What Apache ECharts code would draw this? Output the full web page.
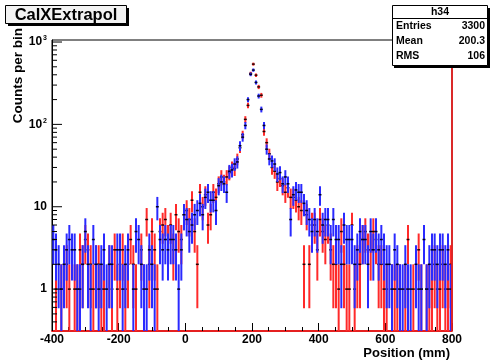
<!DOCTYPE html>
<html><head><meta charset="utf-8">
<script src="https://cdn.jsdelivr.net/npm/echarts@6/dist/echarts.min.js"></script>
<style>html,body{margin:0;padding:0;background:#fff}#c{width:490px;height:361px}</style>
</head><body><div id="c"></div><script>
// ---- data ----
const xStart = -400;          // lower edge of first bin (mm)
const binWidth = 8;           // mm per bin
const redCounts = [
  0,1,0,1,0,2,1,0,1,1, 3,2,4,3,2,1,2,2,1,1, 0,2,1,3,1,2,3,1,2,4, 2,1,0,3,1,7,2,5,
  3,1,5,6,7,4,6,3,8,5,4,8, 9,7,12,5,2,15,10,14,6,8, 15,13,19,23,20,23,26,30,29,38,
  52,75,115,170,415,539,396,285,226,82,60,
  44,30,27,20,22,18,15,17,13,13, 12,10,9,2,8,2,6,6,3,7, 5,4,6,3,2,2,1,5,2,1,
  1,6,1,2,2,4,5,3,3,5, 4,2,2,1,1,0,1,1,1,1, 0,1,4,0,1,0,3,1,0,1, 1,1,2,1,1,2,1,1,2
];
const blueCounts = [
  4,3,2,1,2,3,4,3,3,1, 1,2,5,2,1,4,2,1,2,3, 1,2,2,0,3,3,1,2,3,0, 1,5,4,2,1,1,3,2,
  1,10,4,3,4,3,4,4,3,1,3,8, 7,5,6,8,9,11,8,13,15,12, 12,9,18,20,19,15,27,28,33,35,
  55,70,97,200,405,456,323,221,152,97,50,
  38,36,33,25,26,19,23,19,7,14, 16,15,15,11,9,7,5,7,5,14, 6,7,7,4,7,4,4,2,6,4,
  4,4,2,3,5,4,4,2,5,3, 5,3,4,3,2,2,1,3,2,1, 1,2,1,1,0,2,1,1,4,1, 2,3,3,2,3,3,2,3,1
];
const xRange = [-400, 800];
const yRange = [0.31, 1058];
const yDecades = [0, 1, 2, 3];
const yDecadeLabels = ['1', '10', '10|2', '10|3'];
const statsRows = [['Entries', '3300'], ['Mean', '200.3'], ['RMS', '106']];
const histName = 'h34';
const titleText = 'CalXExtrapol';

// ---- build ----
const FONT = '"Liberation Sans", Arial, Helvetica, sans-serif';
function toPoints(counts) {
  const out = [];
  counts.forEach((n, i) => { if (n > 0) out.push([xStart + binWidth * (i + 0.5), n]); });
  return out;
}
function makeRender(color, markColor) {
  return function (params, api) {
    const x = api.value(0), n = api.value(1);
    const e = Math.sqrt(n);
    const lo = Math.max(n - e, yRange[0]);
    const hi = n + e;
    const pt = api.coord([x, hi]), pb = api.coord([x, lo]);
    const pl = api.coord([x - binWidth * 0.55, n]), pr = api.coord([x + binWidth * 0.55, n]);
    return { type: 'group', children: [
      { type: 'line', shape: { x1: pt[0], y1: pt[1], x2: pb[0], y2: pb[1] }, style: { stroke: color, lineWidth: 2 } },
      { type: 'line', shape: { x1: pl[0], y1: pl[1], x2: pr[0], y2: pr[1] }, style: { stroke: markColor, lineWidth: 1.5 } }
    ]};
  };
}
const yTicks = [];
for (let d = -1; d <= 3; d++) for (let m = 1; m <= 9; m++) {
  const v = m * Math.pow(10, d);
  if (v >= yRange[0] && v <= yRange[1]) yTicks.push([xRange[0], v, m === 1 ? 1 : 0]);
}
const labelMap = {};
yDecades.forEach((d, i) => labelMap[d] = yDecadeLabels[i]);

const chart = echarts.init(document.getElementById('c'), null, { renderer: 'canvas' });
chart.setOption({
  animation: false,
  backgroundColor: '#fff',
  grid: { left: 52, right: 38, top: 40, bottom: 30, show: true, borderColor: '#000', borderWidth: 1, backgroundColor: 'transparent' },
  xAxis: {
    type: 'value', min: xRange[0], max: xRange[1], interval: 200,
    axisLine: { show: true, onZero: false, lineStyle: { color: '#e52020', width: 1.8 } },
    axisTick: { show: true, inside: true, length: 8, lineStyle: { color: '#000', width: 1 } },
    minorTick: { show: true, splitNumber: 4, length: 4, lineStyle: { color: '#000', width: 1 } },
    splitLine: { show: false }, minorSplitLine: { show: false },
    axisLabel: { color: '#000', fontFamily: FONT, fontWeight: 'bold', fontSize: 12, margin: 3 }
  },
  yAxis: {
    type: 'log', logBase: 10, min: yRange[0], max: yRange[1],
    axisLine: { show: true, onZero: false, lineStyle: { color: '#000', width: 1 } },
    axisTick: { show: false }, splitLine: { show: false },
    axisLabel: {
      showMinLabel: false, showMaxLabel: false, margin: 5,
      formatter: function (v) {
        const d = Math.round(Math.log10(v));
        const s = labelMap[d];
        if (s === undefined) return '';
        if (s.indexOf('|') >= 0) { const p = s.split('|'); return '{b|' + p[0] + '}{s|' + p[1] + '}'; }
        return '{b|' + s + '}';
      },
      rich: {
        b: { fontFamily: FONT, fontWeight: 'bold', fontSize: 12, color: '#000' },
        s: { fontFamily: FONT, fontWeight: 'bold', fontSize: 7, color: '#000', verticalAlign: 'top', padding: [0, 0, 7, 1] }
      }
    }
  },
  series: [
    { type: 'custom', name: 'red', data: toPoints(redCounts), renderItem: makeRender('#ff2a2a', '#2a0000'), clip: true, z: 2,
      markLine: { silent: true, symbol: 'none', label: { show: false }, lineStyle: { color: '#e52020', width: 1.8, type: 'solid' }, data: [{ xAxis: xRange[1] }] } },
    { type: 'custom', name: 'blue', data: toPoints(blueCounts), renderItem: makeRender('#2a2aff', '#00002a'), clip: true, z: 3 },
    { type: 'custom', name: 'yticks', data: yTicks, silent: true, z: 4,
      renderItem: function (params, api) {
        const p = api.coord([api.value(0), api.value(1)]);
        const len = api.value(2) ? 10 : 5;
        return { type: 'line', shape: { x1: p[0], y1: p[1], x2: p[0] + len, y2: p[1] }, style: { stroke: '#000', lineWidth: 1 } };
      } }
  ],
  graphic: [
    // title box
    { type: 'rect', shape: { x: 8, y: 8, width: 121, height: 18 }, style: { fill: '#000' }, z: 10 },
    { type: 'rect', shape: { x: 5.5, y: 5.5, width: 121, height: 18 }, style: { fill: '#f2f2f2', stroke: '#000', lineWidth: 1 }, z: 11 },
    { type: 'text', x: 66, y: 15, style: { text: titleText, font: 'bold 16.5px ' + FONT, fill: '#000', align: 'center', verticalAlign: 'middle' }, z: 12 },
    // stats box
    { type: 'rect', shape: { x: 394, y: 8, width: 96, height: 60 }, style: { fill: '#000' }, z: 10 },
    { type: 'rect', shape: { x: 392.5, y: 5.5, width: 95, height: 60 }, style: { fill: '#fff', stroke: '#000', lineWidth: 1 }, z: 11 },
    { type: 'line', shape: { x1: 392.5, y1: 18.5, x2: 487.5, y2: 18.5 }, style: { stroke: '#000', lineWidth: 1 }, z: 12 },
    { type: 'text', x: 440, y: 12.5, style: { text: histName, font: 'bold 10.5px ' + FONT, fill: '#000', align: 'center', verticalAlign: 'middle' }, z: 12 },
    ...statsRows.flatMap((r, i) => [
      { type: 'text', x: 396, y: 26.5 + i * 15, style: { text: r[0], font: 'bold 10.5px ' + FONT, fill: '#000', align: 'left', verticalAlign: 'middle' }, z: 12 },
      { type: 'text', x: 485, y: 26.5 + i * 15, style: { text: r[1], font: 'bold 10.5px ' + FONT, fill: '#000', align: 'right', verticalAlign: 'middle' }, z: 12 }
    ]),
    // axis titles
    { type: 'text', x: 18, y: 28, rotation: Math.PI / 2, style: { text: 'Counts per bin', font: 'bold 13.5px ' + FONT, fill: '#000', align: 'right', verticalAlign: 'middle' }, z: 12 },
    { type: 'text', x: 450, y: 353, style: { text: 'Position (mm)', font: 'bold 13px ' + FONT, fill: '#000', align: 'right', verticalAlign: 'middle' }, z: 12 }
  ]
});
</script></body></html>
